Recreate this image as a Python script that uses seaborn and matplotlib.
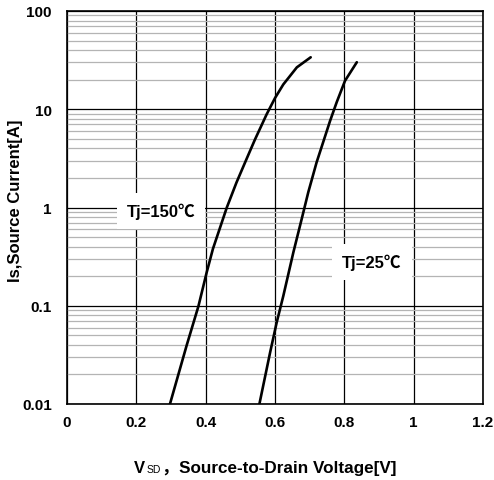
import seaborn as sns
import matplotlib.pyplot as plt
import pandas as pd

# Tj=150C curve
v_150 = [0.297, 0.345, 0.379, 0.403, 0.421, 0.461, 0.489, 0.518, 0.542, 0.576, 0.600, 0.624, 0.663, 0.703]
i_150 = [0.010, 0.0393, 0.0986, 0.219, 0.380, 1.00, 1.80, 3.12, 4.90, 8.90, 13.0, 17.9, 26.7, 33.8]

# Tj=25C curve
v_25 = [0.555, 0.586, 0.605, 0.624, 0.653, 0.677, 0.696, 0.720, 0.745, 0.759, 0.778, 0.802, 0.836]
i_25 = [0.010, 0.0336, 0.0679, 0.126, 0.350, 0.764, 1.43, 2.88, 5.38, 7.64, 11.8, 19.5, 30.1]

x_ticks = [0, 0.2, 0.4, 0.6, 0.8, 1.0, 1.2]
x_labels = ["0", "0.2", "0.4", "0.6", "0.8", "1", "1.2"]
y_ticks = [0.01, 0.1, 1, 10, 100]
y_labels = ["0.01", "0.1", "1", "10", "100"]

sns.set_theme(style="white")
plt.rcParams['font.family'] = ['Liberation Sans', 'Noto Sans CJK SC', 'DejaVu Sans']
plt.rcParams['font.weight'] = 'bold'
plt.rcParams['text.color'] = 'black'
plt.rcParams['axes.labelcolor'] = 'black'
plt.rcParams['xtick.color'] = 'black'
plt.rcParams['ytick.color'] = 'black'

df150 = pd.DataFrame({"v": v_150, "i": i_150})
df25 = pd.DataFrame({"v": v_25, "i": i_25})

fig = plt.figure(figsize=(4.94, 4.81), dpi=100)
ax = fig.add_axes([67 / 494, 1 - 405 / 481, 416 / 494, 393 / 481])

sns.lineplot(data=df150, x="v", y="i", color="black", lw=1.9, sort=False, ax=ax, zorder=5)
sns.lineplot(data=df25, x="v", y="i", color="black", lw=1.9, sort=False, ax=ax, zorder=5)

ax.set_yscale("log")
ax.set_xlim(0, 1.2)
ax.set_ylim(0.01, 100)
ax.set_xticks(x_ticks, x_labels)
ax.set_yticks(y_ticks, y_labels)
ax.set_yticks([m * d for d in [0.01, 0.1, 1, 10] for m in range(2, 10)], minor=True)
ax.tick_params(axis="both", which="both", length=0, labelsize=11)
ax.tick_params(axis="x", pad=8)
ax.tick_params(axis="y", pad=11)
for lab in ax.get_xticklabels() + ax.get_yticklabels():
    lab.set_fontweight("bold")

ax.set_axisbelow(True)
ax.grid(which="major", axis="both", color="black", lw=0.9)
ax.grid(which="minor", axis="y", color="#b4b4b4", lw=0.9)
for s in ax.spines.values():
    s.set_color("black")
    s.set_linewidth(1.2)

ax.set_xlabel("")
ax.set_ylabel("Is,Source Current[A]", fontsize=12, fontweight="bold")
ax.yaxis.set_label_coords(-0.105, 0.519)

box = dict(boxstyle="square,pad=0.6", facecolor="white", edgecolor="none")
ax.text(0.271, 0.92, "Tj=150℃", fontsize=12, fontweight="bold", ha="center", va="center", bbox=box, zorder=4)
ax.text(0.880, 0.279, "Tj=25℃", fontsize=12, fontweight="bold", ha="center", va="center", bbox=box, zorder=4)

# x label with subscript SD
yb = 1 - 473 / 481
fig.text(134 / 494, yb, "V", fontsize=12, fontweight="bold", va="baseline")
fig.text(147 / 494, yb, "SD", fontsize=7.5, fontweight="normal", va="baseline")
fig.text(162 / 494, yb, "，Source-to-Drain Voltage[V]", fontsize=12.3, fontweight="bold", va="baseline")

fig.savefig("out.png", dpi=100, facecolor="white")
